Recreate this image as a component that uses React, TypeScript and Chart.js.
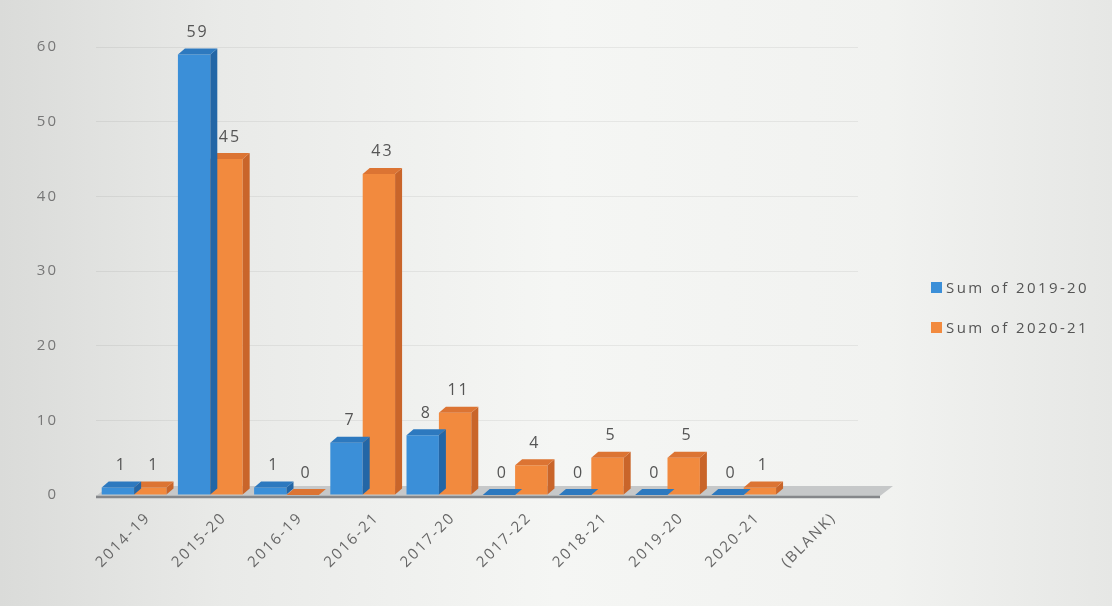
import React, { useEffect, useRef } from "react";
import { Chart, registerables } from "chart.js";

Chart.register(...registerables);

const categories = ["2014-19", "2015-20", "2016-19", "2016-21", "2017-20", "2017-22", "2018-21", "2019-20", "2020-21", "(BLANK)"];
const sum201920: (number | null)[] = [1, 59, 1, 7, 8, 0, 0, 0, 0, null];
const sum202021: (number | null)[] = [1, 45, 0, 43, 11, 4, 5, 5, 1, null];
const seriesNames = ["Sum of 2019-20", "Sum of 2020-21"];
const yMax = 60;
const yStep = 10;

const FRONT = ["#3b8fd8", "#f28a3e"];
const SIDE = ["#2366a6", "#c9652a"];
const TOP = ["#2d79bf", "#dc7433"];
const DX = 7;
const DY = 6;
const FONT = "'Open Sans', 'Liberation Sans', sans-serif";
const SPACING = "2px";

const bar3d = {
  id: "bar3d",
  beforeUpdate(chart: any) {
    chart.ctx.letterSpacing = SPACING;
  },
  beforeDraw(chart: any) {
    chart.ctx.letterSpacing = SPACING;
  },
  beforeDatasetsDraw(chart: any) {
    const { ctx, chartArea, scales } = chart;
    const base = scales.y.getPixelForValue(0);
    const l = chartArea.left;
    const r = chartArea.right + 22;
    ctx.save();
    ctx.fillStyle = "#c6c8c9";
    ctx.beginPath();
    ctx.moveTo(l, base + 1);
    ctx.lineTo(r, base + 1);
    ctx.lineTo(r + DX + 6, base - DY - 3);
    ctx.lineTo(l + DX + 6, base - DY - 3);
    ctx.closePath();
    ctx.fill();
    ctx.strokeStyle = "#85878a";
    ctx.lineWidth = 2.5;
    ctx.beginPath();
    ctx.moveTo(l, base + 2);
    ctx.lineTo(r, base + 2);
    ctx.stroke();
    ctx.restore();
  },
  afterDatasetDraw(chart: any, args: any) {
    const { ctx } = chart;
    const idx = args.index;
    const ds = chart.data.datasets[idx];
    ctx.save();
    args.meta.data.forEach((el: any, i: number) => {
      if (ds.data[i] == null) return;
      const { x, y, base, width } = el.getProps(["x", "y", "base", "width"], true);
      const l = x - width / 2;
      const r = x + width / 2;
      ctx.fillStyle = SIDE[idx];
      ctx.beginPath();
      ctx.moveTo(r, y);
      ctx.lineTo(r + DX, y - DY);
      ctx.lineTo(r + DX, base - DY);
      ctx.lineTo(r, base);
      ctx.closePath();
      ctx.fill();
      ctx.fillStyle = TOP[idx];
      ctx.beginPath();
      ctx.moveTo(l, y);
      ctx.lineTo(r, y);
      ctx.lineTo(r + DX, y - DY);
      ctx.lineTo(l + DX, y - DY);
      ctx.closePath();
      ctx.fill();
    });
    ctx.restore();
  },
  afterDatasetsDraw(chart: any) {
    const { ctx } = chart;
    ctx.save();
    ctx.letterSpacing = SPACING;
    ctx.font = `16px ${FONT}`;
    ctx.fillStyle = "#555";
    ctx.textAlign = "center";
    ctx.textBaseline = "bottom";
    chart.data.datasets.forEach((ds: any, idx: number) => {
      const meta = chart.getDatasetMeta(idx);
      meta.data.forEach((el: any, i: number) => {
        const v = ds.data[i];
        if (v == null) return;
        const { x, y } = el.getProps(["x", "y"], true);
        ctx.fillText(String(v), x + DX / 2, y - DY - 8);
      });
    });
    ctx.restore();
  },
};

export default function App() {
  const ref = useRef<HTMLCanvasElement>(null);
  useEffect(() => {
    const chart = new Chart(ref.current as HTMLCanvasElement, {
      type: "bar",
      data: {
        labels: categories,
        datasets: [
          { label: seriesNames[0], data: sum201920, backgroundColor: FRONT[0], borderWidth: 0 },
          { label: seriesNames[1], data: sum202021, backgroundColor: FRONT[1], borderWidth: 0 },
        ],
      },
      options: {
        responsive: false,
        animation: false,
        layout: { padding: { top: 36, right: 254, left: 0, bottom: 0 } },
        datasets: { bar: { categoryPercentage: 0.85, barPercentage: 1 } },
        plugins: { legend: { display: false }, tooltip: { enabled: false } },
        scales: {
          x: {
            grid: { display: false },
            border: { display: false },
            ticks: {
              autoSkip: false,
              minRotation: 45,
              maxRotation: 45,
              padding: 6,
              labelOffset: 14,
              color: "#666",
              font: { family: FONT, size: 15 },
            },
            afterFit(scale: any) {
              scale.height = 111;
            },
          },
          y: {
            min: 0,
            max: yMax,
            ticks: { stepSize: yStep, padding: 38, color: "#777", font: { family: FONT, size: 15 } },
            grid: { color: "rgba(0,0,0,0.06)", drawTicks: false },
            border: { display: false },
            afterFit(scale: any) {
              scale.width = 96;
            },
          },
        },
      },
      plugins: [bar3d],
    });
    return () => chart.destroy();
  }, []);

  return (
    <div
      style={{
        position: "absolute",
        left: 0,
        top: 0,
        width: 1112,
        height: 606,
        background: "linear-gradient(to right, #dadbd9 0%, #e9eae8 20%, #f5f6f4 50%, #f1f2f0 80%, #e6e7e5 100%)",
        fontFamily: FONT,
      }}
    >
      <canvas ref={ref} width={1112} height={606} style={{ position: "absolute", left: 0, top: 0 }} />
      {seriesNames.map((n, i) => (
        <div
          key={n}
          style={{
            position: "absolute",
            left: 931,
            top: 277 + i * 40,
            display: "flex",
            alignItems: "center",
            fontSize: 15,
            letterSpacing: "2.4px",
            color: "#555",
          }}
        >
          <span style={{ display: "inline-block", width: 11, height: 11, background: FRONT[i], marginRight: 4 }} />
          {n}
        </div>
      ))}
    </div>
  );
}
